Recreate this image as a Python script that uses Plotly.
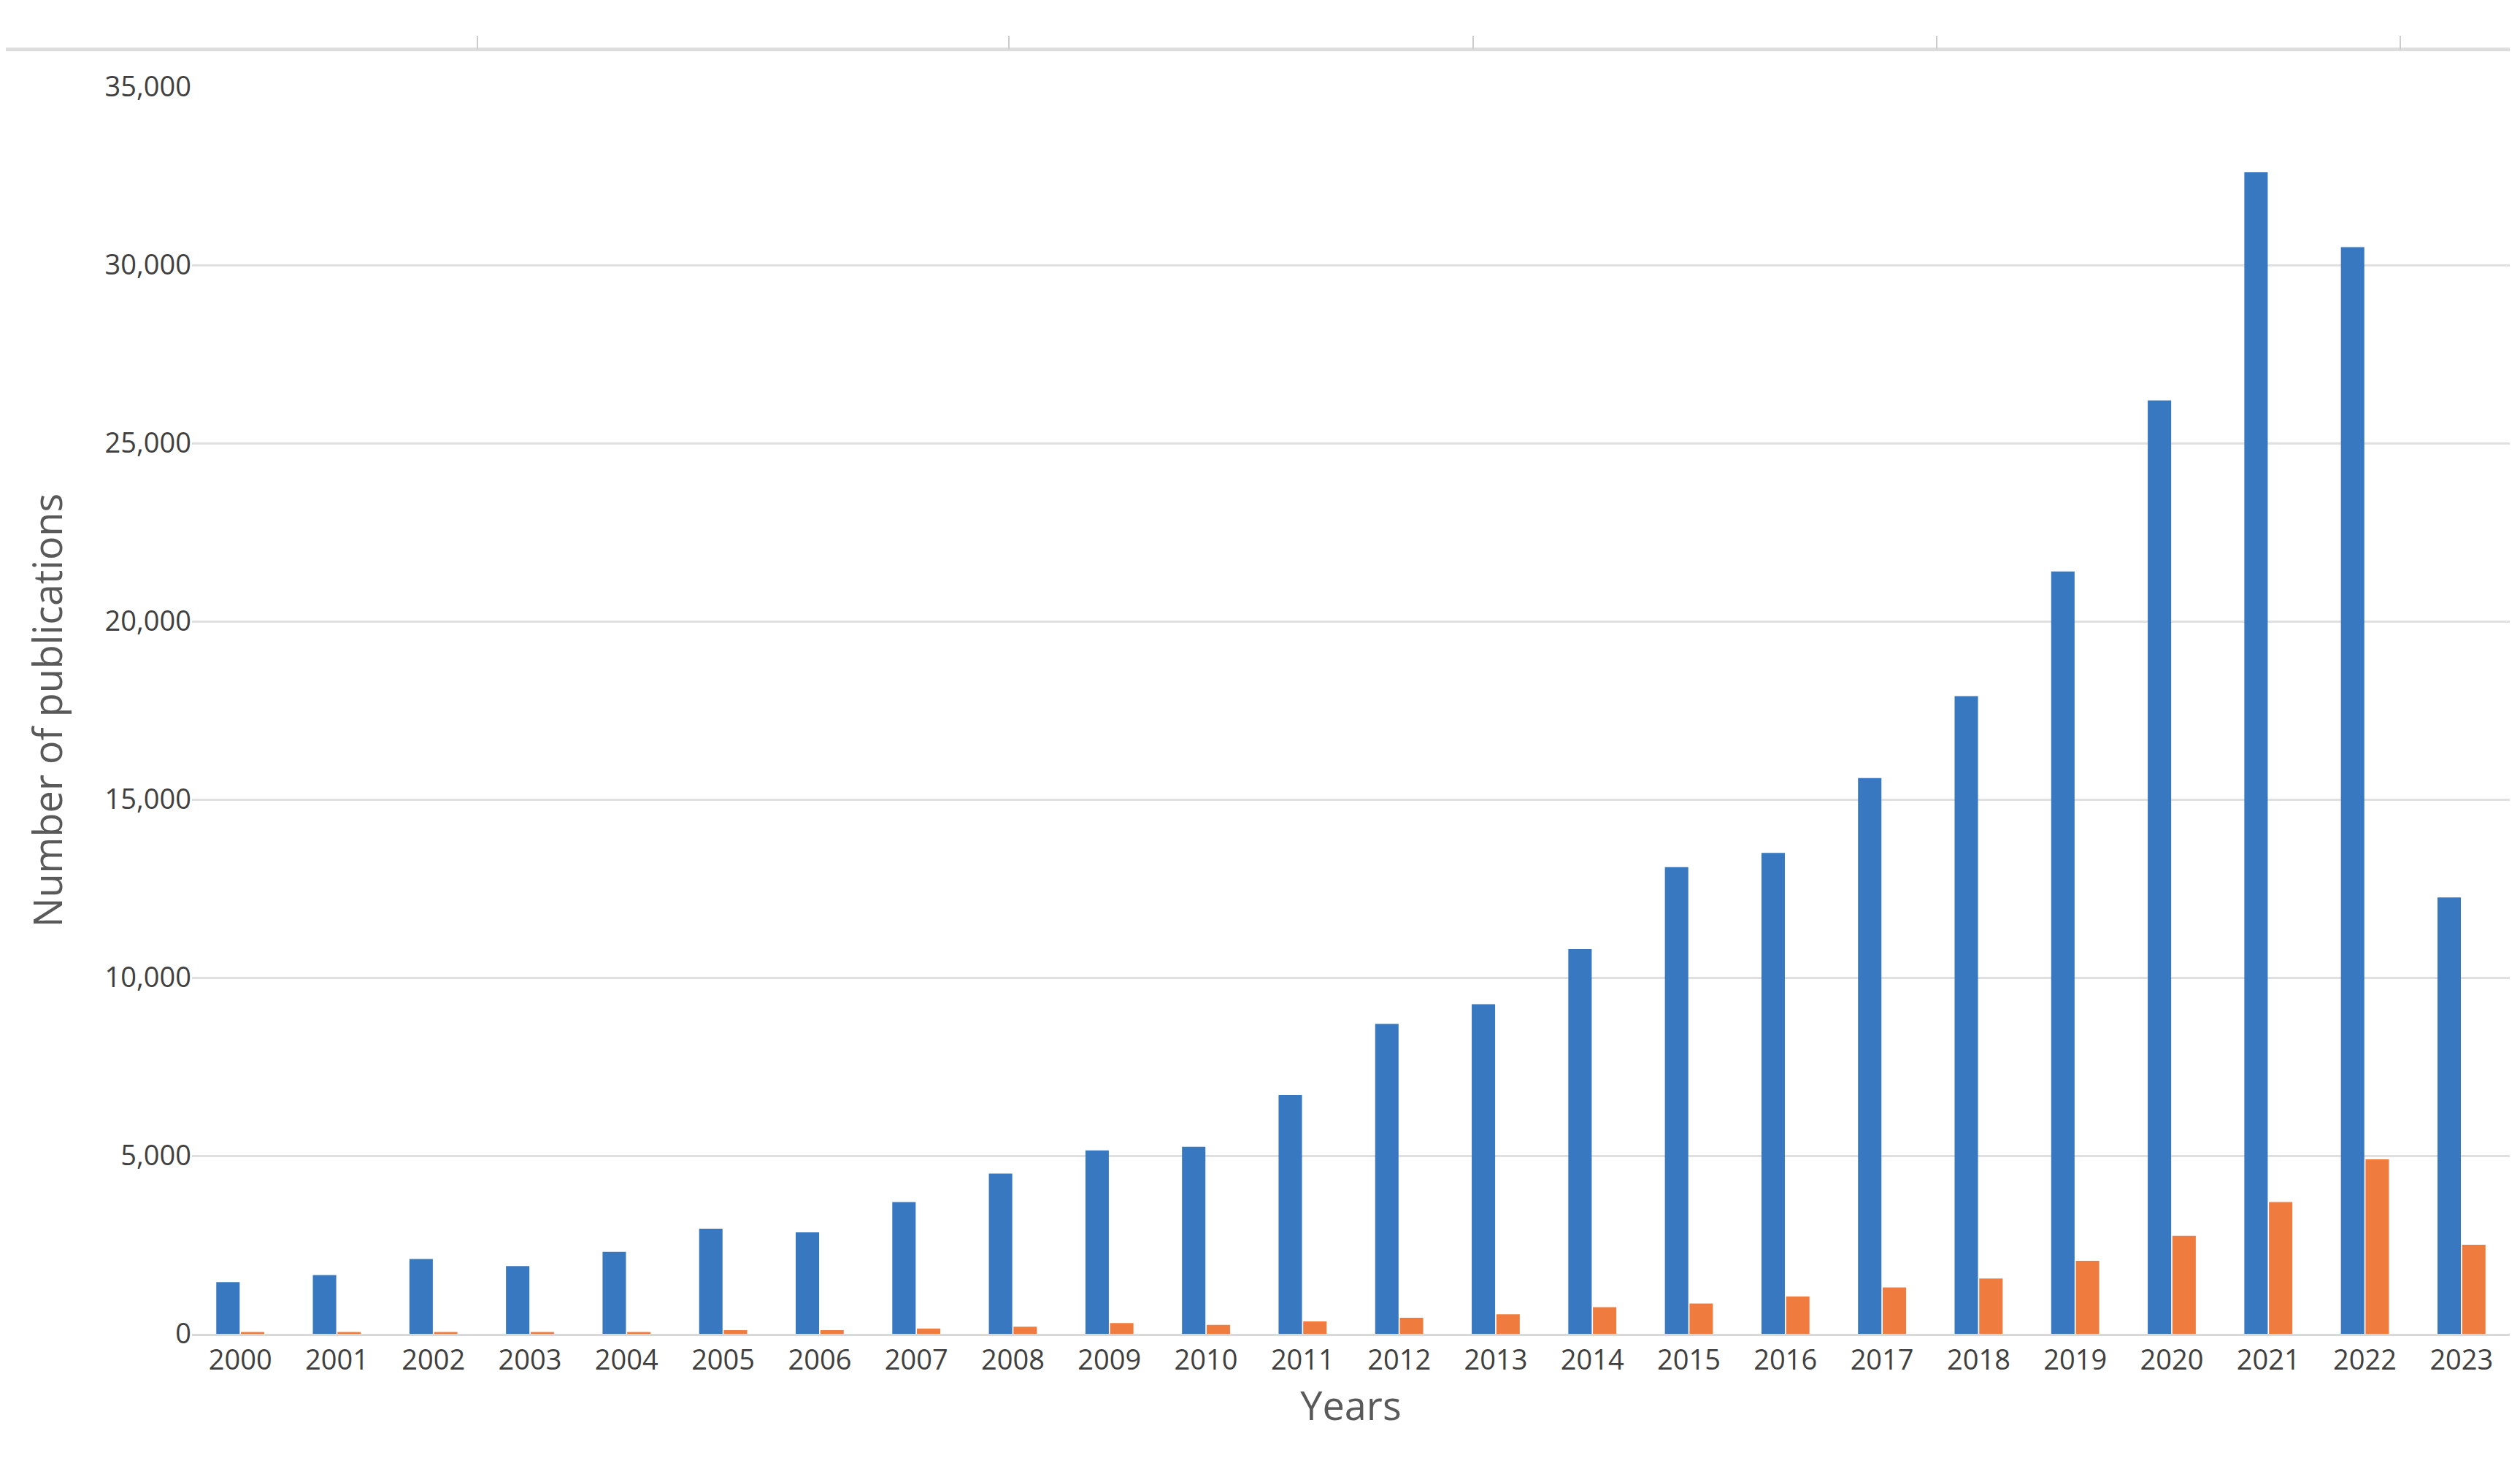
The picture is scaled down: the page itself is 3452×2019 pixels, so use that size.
import plotly.graph_objects as go

years = [str(y) for y in range(2000, 2024)]
blue_vals = [1450, 1650, 2100, 1900, 2300, 2950, 2850, 3700, 4500, 5150, 5250, 6700,
             8700, 9250, 10800, 13100, 13500, 15600, 17900, 21400, 26200, 32600, 30500, 12250]
orange_vals = [50, 50, 50, 50, 50, 100, 100, 150, 200, 300, 250, 350,
               450, 550, 750, 850, 1050, 1300, 1550, 2050, 2750, 3700, 4900, 2500]
y_ticks = [0, 5000, 10000, 15000, 20000, 25000, 30000, 35000]

fig = go.Figure()
fig.add_bar(x=years, y=blue_vals, marker_color="#3878C0", marker_line_width=0, name="A")
fig.add_bar(x=years, y=orange_vals, marker_color="#EF7B3E", marker_line_width=0, name="B")

font = "Open Sans, Liberation Sans, sans-serif"
L, R, T, B = 255, 22, 111, 200
fig.update_layout(
    width=3452, height=2019,
    margin=dict(l=L, r=R, t=T, b=B),
    paper_bgcolor="white", plot_bgcolor="white",
    barmode="group", bargap=0.49, bargroupgap=0.05,
    showlegend=False,
    font=dict(family=font, color="#404040"),
)
fig.update_xaxes(tickfont=dict(size=38, color="#404040"), ticks="", showline=True,
                 linecolor="#D9D9D9", linewidth=3,
                 title=dict(text="Years", font=dict(size=54, color="#595959"), standoff=20))
fig.update_yaxes(range=[0, 35000], tickvals=y_ticks, tickformat=",",
                 tickfont=dict(size=38, color="#404040"), gridcolor="#E0E0E0", gridwidth=3,
                 zeroline=False, ticklen=0, ticks="",
                 title=dict(text="Number of publications", font=dict(size=54, color="#595959"), standoff=40))

# decorative top border line with ticks
fig.add_shape(type="line", xref="paper", yref="paper", x0=-L / (3452 - L - R), x1=1.0, y0=1.03, y1=1.03,
              line=dict(color="#DDDDDD", width=5))
for xp in [646, 1374, 2010, 2645, 3280]:
    fx = (xp - L) / (3452 - L - R)
    fig.add_shape(type="line", xref="paper", yref="paper", x0=fx, x1=fx, y0=1.03, y1=1.041,
                  line=dict(color="#CCCCCC", width=2))

fig.write_html("out.html")
